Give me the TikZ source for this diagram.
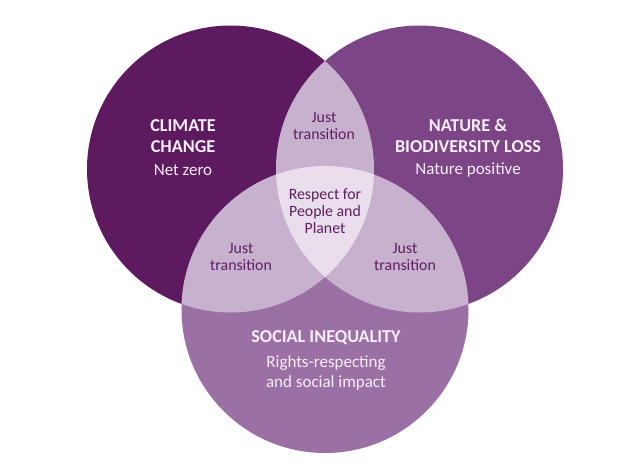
\documentclass[tikz,border=0pt]{standalone}
\usepackage{fontspec}
\setmainfont{Carlito}
\usepackage{xcolor}
\usepackage{tikz}
\usetikzlibrary{positioning}

\definecolor{climatecol}{HTML}{5D1A5F}
\definecolor{naturecol}{HTML}{7C4585}
\definecolor{socialcol}{HTML}{9B70A4}
\definecolor{overlapcol}{HTML}{C8B1CF}
\definecolor{centrecol}{HTML}{E9DFEC}
\definecolor{lighttext}{HTML}{F7EEF7}
\definecolor{darktext}{HTML}{5E1F60}

\tikzset{
  title/.style={font=\fontsize{15.5}{17.5}\selectfont\bfseries, text=lighttext, align=center, inner sep=0pt},
  subtitle/.style={font=\fontsize{14.5}{17.5}\selectfont, text=lighttext, align=center, inner sep=0pt},
  lens/.style={font=\fontsize{13.5}{14.5}\selectfont, text=darktext, align=center, inner sep=0pt}
}

\begin{document}
\begin{tikzpicture}[x=0.03cm,y=-0.03cm]
\useasboundingbox[fill=white] (0,0) rectangle (640,473);
\def\rad{143.5}
\coordinate (cL) at (230.5,169);
\coordinate (cR) at (419.5,169);
\coordinate (cB) at (325,309.5);
% Three circles
\fill[climatecol] (cL) circle (\rad);
\fill[naturecol] (cR) circle (\rad);
\fill[socialcol] (cB) circle (\rad);
% Pairwise overlaps
\begin{scope}
\clip (cL) circle (\rad);
\fill[overlapcol] (cR) circle (\rad);
\fill[overlapcol] (cB) circle (\rad);
\end{scope}
\begin{scope}
\clip (cR) circle (\rad);
\fill[overlapcol] (cB) circle (\rad);
\end{scope}
% Centre of all three
\begin{scope}
\clip (cL) circle (\rad);
\clip (cR) circle (\rad);
\fill[centrecol] (cB) circle (\rad);
\end{scope}
% Circle labels
\node[title] (climate) at (183,136) {CLIMATE\\CHANGE};
\node[subtitle] (netzero) at (183,170) {Net zero};
\node[title] (nature) at (468,136) {NATURE \&\\BIODIVERSITY LOSS};
\node[subtitle] (natpos) at (468,170) {Nature positive};
\node[title] (social) at (326,338) {SOCIAL INEQUALITY};
\node[subtitle] (rights) at (326,373) {Rights-respecting\\and social impact};
% Overlap labels
\node[lens] (justtop) at (324,126) {Just\\transition};
\node[lens] (justleft) at (241,257) {Just\\transition};
\node[lens] (justright) at (405,257) {Just\\transition};
\node[lens] (respect) at (325,211) {Respect for\\People and\\Planet};
\end{tikzpicture}
\end{document}
